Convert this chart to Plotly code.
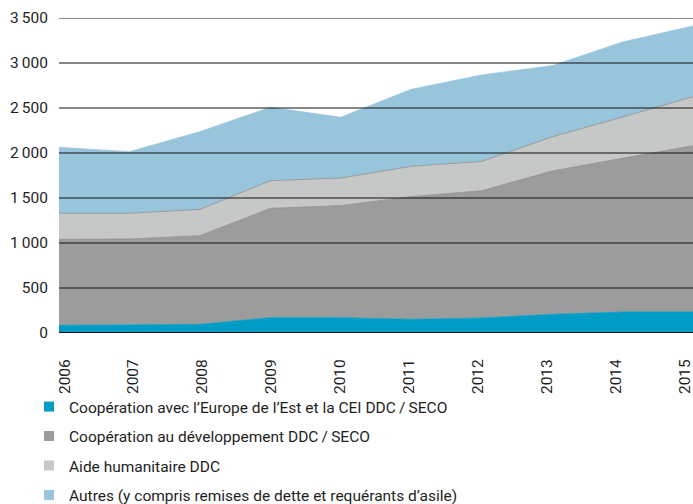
import plotly.graph_objects as go

years = [2006, 2007, 2008, 2009, 2010, 2011, 2012, 2013, 2014, 2015]
year_labels = [str(y) for y in years]

est_europe = [85, 89, 96, 170, 170, 152, 167, 207, 233, 233]
developpement = [956, 955, 985, 1215, 1245, 1363, 1414, 1593, 1708, 1848]
humanitaire = [289, 286, 293, 307, 307, 337, 326, 380, 459, 545]
autres = [733, 685, 863, 816, 675, 855, 960, 790, 833, 785]

series_names = [
    "Coopération avec l’Europe de l’Est et la CEI DDC\u2009/\u2009SECO",
    "Coopération au développement DDC\u2009/\u2009SECO",
    "Aide humanitaire DDC",
    "Autres (y compris remises de dette et requérants d’asile)",
]
series_values = [est_europe, developpement, humanitaire, autres]
colors = ["#009CC5", "#9C9C9C", "#C6C7C7", "#99C5DC"]
edge_colors = ["#009CC5", "#8A8A8A", "#8E8E8E", "#99C5DC"]

y_ticks = [0, 500, 1000, 1500, 2000, 2500, 3000, 3500]
y_tick_labels = ["0", "500", "1\u2009000", "1\u2009500", "2\u2009000", "2\u2009500", "3\u2009000", "3\u2009500"]

FONT = "Roboto"
TXT = "#1e1e1e"

W, H = 693, 504

fig = go.Figure()

for name, vals, col, ecol in zip(series_names, series_values, colors, edge_colors):
    fig.add_trace(go.Scatter(
        x=years, y=vals, stackgroup="one", mode="lines",
        line=dict(color=ecol, width=0.8), fillcolor=col,
        name=name, showlegend=False, hoverinfo="skip",
    ))

for i, (name, col) in enumerate(zip(series_names, colors)):
    fig.add_trace(go.Scatter(
        x=[None], y=[None], mode="markers",
        marker=dict(symbol="square", size=10, color=col),
        name=name, legendgroup=f"g{i}", showlegend=True,
    ))

# invisible trace for the label axis
fig.add_trace(go.Scatter(x=years, y=[None] * len(years), xaxis="x2", yaxis="y",
                         mode="markers", showlegend=False, hoverinfo="skip"))

for v in y_ticks:
    fig.add_shape(type="line", xref="paper", x0=0, x1=1, yref="y", y0=v, y1=v,
                  layer="above", line=dict(color="#111111", width=2 if v == 0 else 1.2))

fig.update_layout(
    width=W, height=H,
    margin=dict(l=59, r=0, t=18, b=171, autoexpand=False),
    paper_bgcolor="white", plot_bgcolor="white",
    font=dict(family=FONT, size=15, color=TXT),
    xaxis=dict(range=[2006, 2015], showgrid=False, showticklabels=False,
               zeroline=False, showline=False, ticks=""),
    xaxis2=dict(overlaying="x", anchor="y", side="bottom",
                range=[2005.92, 2015.116], tickvals=years, ticktext=year_labels,
                tickangle=-90, showgrid=False, zeroline=False, showline=False,
                ticks="outside", ticklen=19, tickcolor="rgba(0,0,0,0)",
                ticklabeloverflow="allow",
                tickfont=dict(family=FONT, size=15.5, color=TXT)),
    yaxis=dict(range=[0, 3500], tickvals=y_ticks, ticktext=y_tick_labels,
               showgrid=False, zeroline=False, showline=False,
               ticks="outside", ticklen=7, tickcolor="rgba(0,0,0,0)",
               tickfont=dict(family=FONT, size=15.5, color=TXT)),
    legend=dict(xref="container", yref="container", x=29 / W, y=1 - 390 / H,
                xanchor="left", yanchor="top", traceorder="grouped",
                tracegroupgap=6.3, font=dict(family=FONT, size=15.5, color=TXT),
                bgcolor="rgba(0,0,0,0)"),
    showlegend=True,
)

fig.write_html(
    "out.html",
    config={"displayModeBar": False},
    post_script="document.body.style.margin='0';document.body.style.overflow='hidden';",
)
